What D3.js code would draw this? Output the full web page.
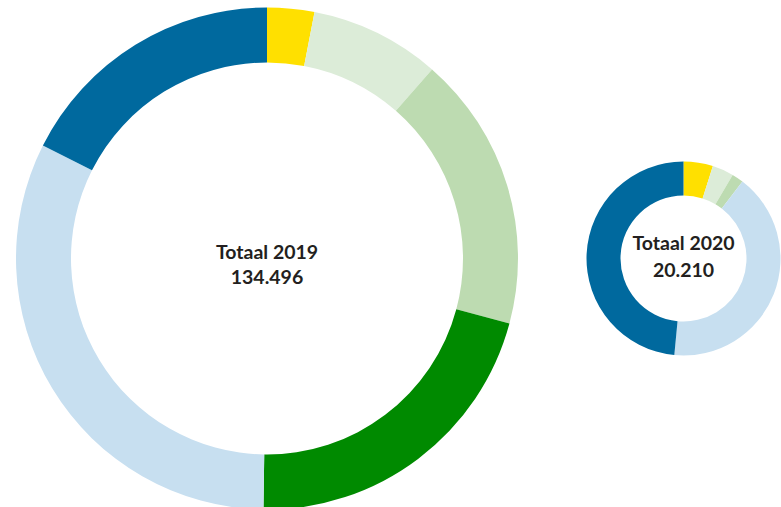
<!DOCTYPE html>
<html><head><meta charset="utf-8">
<script src="https://cdn.jsdelivr.net/npm/d3@7"></script>
<style>body{margin:0;background:#fff}svg{display:block}</style>
</head><body>
<svg id="c" width="781" height="507"></svg>
<script>
const categories = ["geel", "lichtgroen", "middengroen", "donkergroen", "lichtblauw", "donkerblauw"];
const colors = ["#ffe000", "#dcecd8", "#bddbb1", "#008a00", "#c7dff0", "#00699e"];
const values2019 = [4080, 11280, 23870, 28320, 43320, 23626];
const values2020 = [990, 720, 390, 0, 8310, 9800];
const labels = [["Totaal 2019", "134.496"], ["Totaal 2020", "20.210"]];

const svg = d3.select("#c");
const pie = d3.pie().sort(null).value(d => d);
const color = d3.scaleOrdinal().domain(categories).range(colors);

function donut(values, cx, cy, r0, r1, lab, y1, y2) {
  const g = svg.append("g").attr("transform", `translate(${cx},${cy})`);
  const arc = d3.arc().innerRadius(r0).outerRadius(r1);
  g.selectAll("path").data(pie(values)).join("path")
    .attr("d", arc).attr("fill", (d, i) => color(categories[i]));
  const t = g.append("text").attr("text-anchor", "middle")
    .attr("font-family", "Lato, 'Open Sans', sans-serif").attr("font-weight", "bold")
    .attr("font-size", 19.5).attr("fill", "#231f20");
  t.append("tspan").attr("x", 0).attr("y", y1).text(lab[0]);
  t.append("tspan").attr("x", 0).attr("y", y2).text(lab[1]);
}
donut(values2019, 267, 258.5, 196, 251, labels[0], 0, 25);
donut(values2020, 683.5, 258.5, 63, 97, labels[1], -8.5, 18);
</script>
</body></html>
